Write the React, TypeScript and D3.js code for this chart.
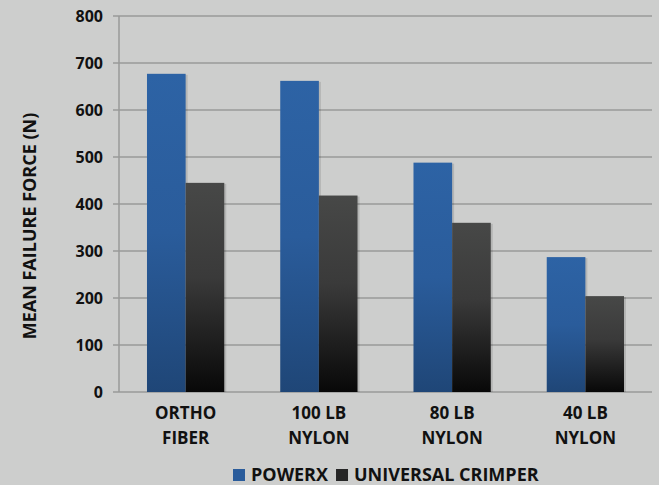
import { useRef, useEffect } from 'react';
import * as d3 from 'd3';

const categories = [['ORTHO', 'FIBER'], ['100 LB', 'NYLON'], ['80 LB', 'NYLON'], ['40 LB', 'NYLON']];
const seriesNames = ['POWERX', 'UNIVERSAL CRIMPER'];
const powerx = [677, 662, 488, 287];
const crimper = [445, 418, 360, 204];
const yTicks = [0, 100, 200, 300, 400, 500, 600, 700, 800];

const W = 659;
const H = 485;
const FONT = '"Open Sans", sans-serif';

export default function App() {
  const svgRef = useRef<SVGSVGElement>(null);

  useEffect(() => {
    const svg = d3.select(svgRef.current);
    svg.selectAll('*').remove();

    const margin = { top: 16, right: 7, bottom: 93, left: 119 };
    const innerW = W - margin.left - margin.right;
    const innerH = H - margin.top - margin.bottom;

    const defs = svg.append('defs');
    const mkGrad = (id: string, stops: [number, string][]) => {
      const lg = defs.append('linearGradient').attr('id', id)
        .attr('x1', 0).attr('y1', 0).attr('x2', 0).attr('y2', 1);
      stops.forEach(([o, c]) => lg.append('stop').attr('offset', o).attr('stop-color', c));
    };
    mkGrad('gBlue', [[0, '#2d63a5'], [0.5, '#2a5c9b'], [1, '#1f4677']]);
    mkGrad('gGray', [[0, '#474847'], [0.45, '#3a3a3a'], [1, '#080808']]);

    svg.append('rect').attr('width', W).attr('height', H).attr('fill', '#cdcecd');

    const g = svg.append('g').attr('transform', `translate(${margin.left},${margin.top})`);

    const y = d3.scaleLinear().domain([0, 800]).range([innerH, 0]);
    const x = d3.scaleBand().domain(categories.map((_, i) => String(i))).range([0, innerW]).paddingInner(0.42).paddingOuter(0.21);
    const xs = d3.scaleBand().domain(['0', '1']).range([0, x.bandwidth()]);

    // grid
    g.selectAll('line.grid').data(yTicks).join('line')
      .attr('x1', -6).attr('x2', innerW)
      .attr('y1', d => y(d)).attr('y2', d => y(d))
      .attr('stroke', '#999a99').attr('stroke-width', 1.5);

    g.append('line').attr('x1', 0).attr('x2', 0).attr('y1', 0).attr('y2', innerH)
      .attr('stroke', '#999a99').attr('stroke-width', 1.5);

    g.selectAll('text.ytick').data(yTicks).join('text')
      .attr('x', -16).attr('y', d => y(d)).attr('dy', '0.35em')
      .attr('text-anchor', 'end').attr('font-family', FONT).attr('font-weight', 'bold')
      .attr('font-size', 16).attr('fill', '#111').text(d => d);

    const series = [powerx, crimper];
    const fills = ['url(#gBlue)', 'url(#gGray)'];
    series.forEach((vals, si) => {
      // soft shadow on right
      g.selectAll(`rect.sh${si}`).data(vals).join('rect')
        .attr('x', (_, i) => (x(String(i)) || 0) + (xs(String(si)) || 0) + 2)
        .attr('y', d => y(d) + 1)
        .attr('width', xs.bandwidth())
        .attr('height', d => innerH - y(d) - 1)
        .attr('fill', '#000').attr('opacity', 0.12);
      g.selectAll(`rect.s${si}`).data(vals).join('rect')
        .attr('x', (_, i) => (x(String(i)) || 0) + (xs(String(si)) || 0))
        .attr('y', d => y(d))
        .attr('width', xs.bandwidth())
        .attr('height', d => innerH - y(d))
        .attr('fill', fills[si]);
    });

    // x labels
    categories.forEach((lines, i) => {
      const cx = (x(String(i)) || 0) + x.bandwidth() / 2;
      lines.forEach((t, li) => {
        g.append('text').attr('x', cx).attr('y', innerH + 27 + li * 25)
          .attr('text-anchor', 'middle').attr('font-family', FONT).attr('font-weight', 'bold')
          .attr('font-size', 17).attr('fill', '#111').text(t);
      });
    });

    // y title
    svg.append('text')
      .attr('transform', `translate(36,${margin.top + innerH / 2 + 22}) rotate(-90)`)
      .attr('text-anchor', 'middle').attr('font-family', FONT).attr('font-weight', 'bold')
      .attr('font-size', 18).attr('fill', '#111').text('MEAN FAILURE FORCE (N)');

    // legend
    const legend = svg.append('g').attr('transform', 'translate(233,468)');
    const legendFill = ['#2a5c9b', '#262626'];
    let lx = 0;
    seriesNames.forEach((name, i) => {
      legend.append('rect').attr('x', lx).attr('y', 1).attr('width', 12).attr('height', 12)
        .attr('fill', legendFill[i]);
      const t = legend.append('text').attr('x', lx + 18).attr('y', 13)
        .attr('font-family', FONT).attr('font-weight', 'bold').attr('font-size', 18)
        .attr('fill', '#111').text(name);
      const w = (t.node() as SVGTextElement).getComputedTextLength();
      lx += 18 + w + 8;
    });
  }, []);

  return <svg ref={svgRef} width={W} height={H} style={{ position: 'absolute', left: 0, top: 0 }} />;
}
